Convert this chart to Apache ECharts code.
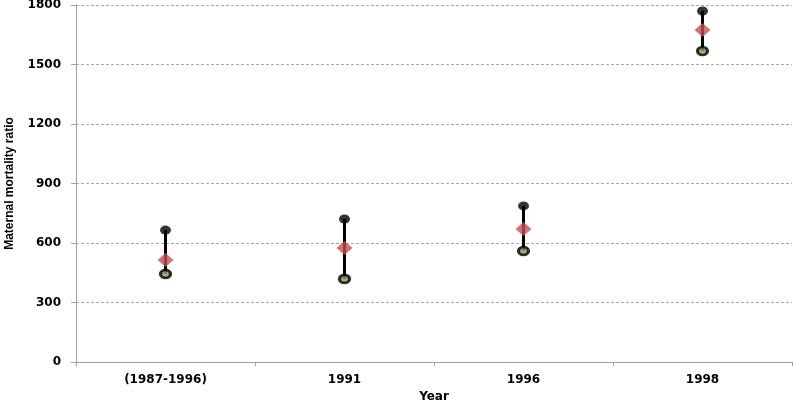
<!DOCTYPE html>
<html><head><meta charset="utf-8">
<script src="https://cdn.jsdelivr.net/npm/echarts@6/dist/echarts.min.js"></script>
<style>html,body{margin:0;padding:0;background:#fff}#c{width:794px;height:402px}</style>
</head><body><div id="c"></div>
<script>
var categories = ['(1987-1996)', '1991', '1996', '1998'];
var highValues = [665, 721, 787, 1770];
var midValues = [514, 575, 671, 1674];
var lowValues = [444, 419, 560, 1568];
var yTicks = [0, 300, 600, 900, 1200, 1500, 1800];

var chart = echarts.init(document.getElementById('c'));
var labelFont = {fontFamily: 'DejaVu Sans', fontWeight: 'bold', fontSize: 12, color: '#000'};
chart.setOption({
  animation: false,
  grid: {left: 76, right: 2, top: 5, bottom: 40, containLabel: false, outerBoundsMode: 'none'},
  xAxis: {
    type: 'category', data: categories,
    name: 'Year', nameLocation: 'middle', nameGap: 29,
    nameTextStyle: {fontFamily: 'DejaVu Sans', fontWeight: 'bold', fontSize: 12, color: '#000'},
    axisLine: {lineStyle: {color: '#a0a0a0'}},
    axisTick: {show: true, length: 4, lineStyle: {color: '#a0a0a0'}},
    axisLabel: Object.assign({margin: 12}, labelFont)
  },
  yAxis: {
    type: 'value', min: yTicks[0], max: yTicks[yTicks.length - 1], interval: 300,
    name: 'Maternal mortality ratio', nameLocation: 'middle', nameGap: 60,
    nameTextStyle: {fontFamily: 'Liberation Sans Narrow, Liberation Sans', fontWeight: 'bold', fontSize: 12, color: '#000'},
    axisLine: {show: true, lineStyle: {color: '#a0a0a0'}},
    axisTick: {show: true, length: 5, lineStyle: {color: '#a0a0a0'}},
    axisLabel: Object.assign({margin: 15, formatter: function (v) { return String(v); }}, labelFont),
    splitLine: {lineStyle: {color: '#a8a8a8', type: [3, 2]}}
  },
  series: [
    {
      type: 'custom',
      data: categories.map(function (c, i) { return [i, lowValues[i], highValues[i]]; }),
      renderItem: function (params, api) {
        var p1 = api.coord([api.value(0), api.value(1)]);
        var p2 = api.coord([api.value(0), api.value(2)]);
        return {type: 'line', shape: {x1: p1[0], y1: p1[1], x2: p2[0], y2: p2[1]},
          style: {stroke: '#000', lineWidth: 3}};
      },
      z: 1
    },
    {
      type: 'scatter', data: highValues, symbol: 'circle', symbolSize: [11, 9],
      itemStyle: {color: '#000'}, z: 3
    },
    {
      type: 'scatter', data: lowValues, symbol: 'circle', symbolSize: [10, 8],
      itemStyle: {color: '#9a9a60', borderColor: '#000', borderWidth: 3}, z: 3
    },
    {
      type: 'scatter', data: midValues, symbol: 'diamond', symbolSize: [16, 14],
      itemStyle: {color: '#C0504D'}, z: 4
    }
  ]
});
</script></body></html>
